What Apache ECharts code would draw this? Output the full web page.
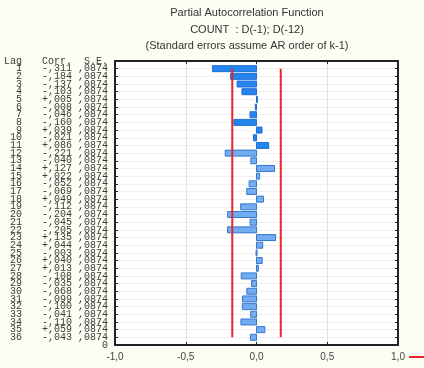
<!DOCTYPE html>
<html>
<head>
<meta charset="utf-8">
<script src="https://cdn.jsdelivr.net/npm/echarts@6/dist/echarts.min.js"></script>
<style>
html,body{margin:0;padding:0;background:#fdfdf3;}
#chart{width:424px;height:368px;}
</style>
</head>
<body>
<div id="chart"></div>
<script>
// Data
const lags = [1,2,3,4,5,6,7,8,9,10,11,12,13,14,15,16,17,18,19,20,21,22,23,24,25,26,27,28,29,30,31,32,33,34,35,36];
const corrLabels = ['-,311','-,184','-,137','-,103','+,005','-,008','-,046','-,160','+,039','-,021','+,086','-,221','-,040','+,127','+,022','-,052','-,069','+,049','-,112','-,204','-,045','-,205','+,135','+,044','-,003','+,040','+,013','-,108','-,035','-,068','-,099','-,100','-,041','-,110','+,059','-,043'];
const corrValues = [-0.311,-0.184,-0.137,-0.103,0.005,-0.008,-0.046,-0.160,0.039,-0.021,0.086,-0.221,-0.040,0.127,0.022,-0.052,-0.069,0.049,-0.112,-0.204,-0.045,-0.205,0.135,0.044,-0.003,0.040,0.013,-0.108,-0.035,-0.068,-0.099,-0.100,-0.041,-0.110,0.059,-0.043];
const seLabels = [',0874',',0874',',0874',',0874',',0874',',0874',',0874',',0874',',0874',',0874',',0874',',0874',',0874',',0874',',0874',',0874',',0874',',0874',',0874',',0874',',0874',',0874',',0874',',0874',',0874',',0874',',0874',',0874',',0874',',0874',',0874',',0874',',0874',',0874',',0874',',0874'];
const confLimit = [0.1713];
const xTickLabels = ['-1,0','-0,5','0,0','0,5','1,0'];
const titleLines = ['Partial Autocorrelation Function','COUNT  : D(-1); D(-12)','(Standard errors assume AR order of k-1)'];
const header = ['Lag','Corr.','S.E.'];

const chart = echarts.init(document.getElementById('chart'), null, {renderer:'canvas'});

const barData = lags.map((l,i)=>[corrValues[i], l]);
const lowerLine = lags.map(l=>[-confLimit[0], l]);
const upperLine = lags.map(l=>[confLimit[0], l]);

const richLbl = {
  n:{width:22, align:'right', fontFamily:'Liberation Mono', fontSize:10, color:'#3a3a3a', lineHeight:8},
  c:{width:50, align:'right', fontFamily:'Liberation Mono', fontSize:10, color:'#3a3a3a', lineHeight:8},
  s:{width:36, align:'right', fontFamily:'Liberation Mono', fontSize:10, color:'#3a3a3a', lineHeight:8}
};

const option = {
  backgroundColor:'#fdfdf3',
  animation:false,
  graphic: titleLines.map((t,i)=>({
    type:'text', x:247, y:13 + i*16.5,
    style:{text:t, align:'center', verticalAlign:'middle', fontFamily:'Liberation Sans', fontSize:11, fill:'#333'}
  })),
  legend:{
    data:[{name:'Conf. Limit', icon:'rect'}],
    left:404, top:347, itemWidth:16, itemHeight:2,
    textStyle:{fontSize:10, color:'#333'}
  },
  grid:{left:115, right:26, top:61, bottom:23, show:true, backgroundColor:'#ffffff', borderWidth:0,
        containLabel:false, outerBoundsMode:'none'},
  xAxis:[{
    type:'value', min:-1, max:1, interval:0.5, position:'bottom',
    axisLine:{show:true, onZero:false, lineStyle:{color:'#222', width:2}},
    axisTick:{show:true, inside:true, length:3, lineStyle:{color:'#222'}},
    axisLabel:{margin:7, fontFamily:'Liberation Sans', fontSize:10, color:'#444',
      formatter:(v)=>xTickLabels[Math.round((v+1)/0.5)]},
    splitLine:{show:true, lineStyle:{color:'#e4e4e4', width:1}}
  },{
    type:'value', min:-1, max:1, interval:0.5, position:'top',
    axisLine:{show:true, onZero:false, lineStyle:{color:'#222', width:2}},
    axisTick:{show:true, inside:true, length:3, lineStyle:{color:'#222'}},
    axisLabel:{show:false}, splitLine:{show:false}
  }],
  yAxis:[{
    type:'value', min:0, max:37, interval:1, inverse:true, position:'left',
    axisLine:{show:true, onZero:false, lineStyle:{color:'#222', width:2}},
    axisTick:{show:true, inside:true, length:3, lineStyle:{color:'#222'}},
    splitLine:{show:true, lineStyle:{color:'#efefef', width:1}},
    axisLabel:{margin:7, showMinLabel:false, showMaxLabel:false, hideOverlap:false, rich:richLbl,
      formatter:(val)=>{
        const i = lags.indexOf(Math.round(val));
        if (i<0) return '';
        return '{n|'+lags[i]+'}{c|'+corrLabels[i]+'}{s|'+seLabels[i]+'}';
      }}
  },{
    type:'value', min:0, max:37, interval:1, inverse:true, position:'right',
    axisLine:{show:true, onZero:false, lineStyle:{color:'#222', width:2}},
    axisTick:{show:true, inside:true, length:3, lineStyle:{color:'#222'}},
    axisLabel:{show:false}, splitLine:{show:false}
  },{
    type:'value', min:0, max:37, interval:1, inverse:true, position:'left', offset:0,
    axisLine:{show:false}, axisTick:{show:false}, splitLine:{show:false},
    axisLabel:{margin:7, showMinLabel:true, showMaxLabel:true, rich:richLbl,
      formatter:(val)=>{
        const v = Math.round(val);
        if (v===0) return '{n|'+header[0]+'}{c|'+header[1]+'}{s|'+header[2]+'}';
        if (v===37) return '{n|}{c|}{s|0}';
        return '';
      }}
  }],
  series:[{
    type:'custom', name:'PACF', xAxisIndex:0, yAxisIndex:0,
    data:barData,
    encode:{x:0, y:1},
    renderItem:(params, api)=>{
      const v = api.value(0), l = api.value(1);
      const p0 = api.coord([0,l]), p1 = api.coord([v,l]);
      const h = api.size([0,1])[1]*0.78;
      const dark = l<=11;
      return {
        type:'rect',
        shape:{x:Math.min(p0[0],p1[0]), y:p0[1]-h/2, width:Math.max(Math.abs(p1[0]-p0[0]),1), height:h},
        style:{fill: dark ? '#2684ef' : '#72adf1', stroke: dark ? '#1d6fd8' : '#3676cf', lineWidth:1}
      };
    }
  },{
    type:'line', name:'Conf. Limit', data:lowerLine, showSymbol:false, symbol:'none',
    lineStyle:{color:'#e8262a', width:2}, itemStyle:{color:'#e8262a'}, z:5
  },{
    type:'line', name:'Conf. Limit', data:upperLine, showSymbol:false, symbol:'none',
    lineStyle:{color:'#e8262a', width:2}, itemStyle:{color:'#e8262a'}, z:5
  }]
};
chart.setOption(option);
</script>
</body>
</html>
